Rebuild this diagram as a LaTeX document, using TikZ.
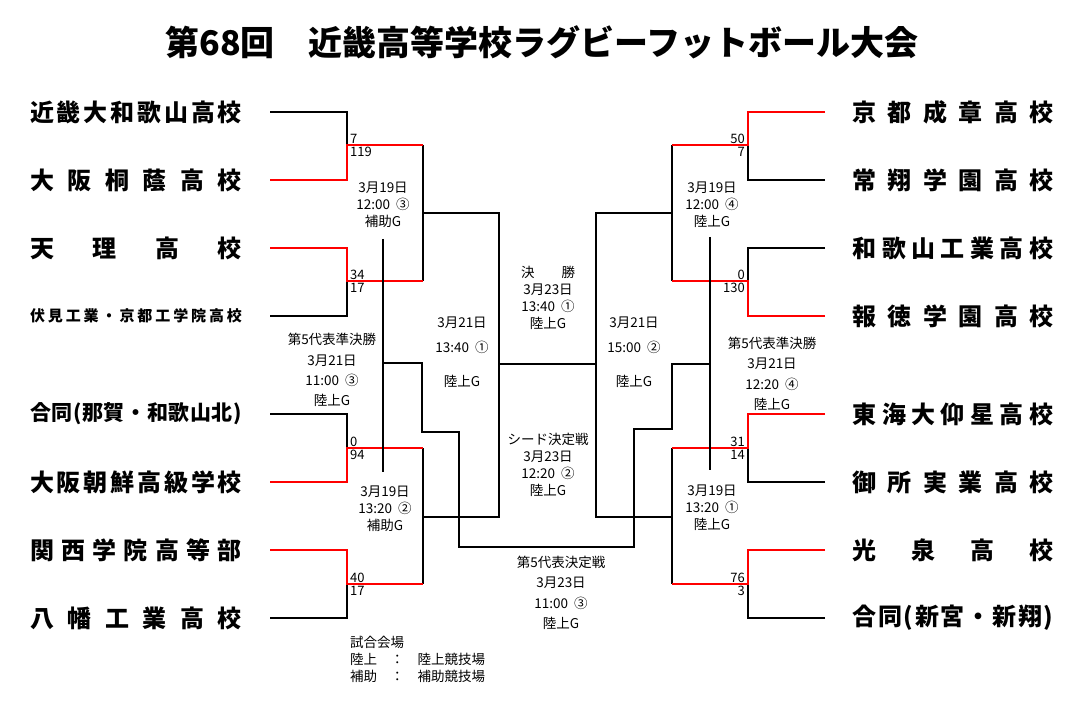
\documentclass[tikz,border=0pt]{standalone}
\usepackage{fontspec}
\setmainfont{Noto Sans CJK JP}
\usepackage{tikz}

\makeatletter
\newcommand\spreadname[2]{\makebox[#1]{\spread@a#2\spread@end}}
\def\spread@a#1#2\spread@end{#1\ifx\relax#2\relax\else\hfill\spread@a#2\spread@end\fi}
\makeatother

\begin{document}
\begin{tikzpicture}[x=1pt, y=-1pt,
    ln/.style={line width=1.9pt},
    win/.style={line width=1.9pt, red},
    team/.style={inner sep=0pt, font=\bfseries\fontsize{24}{24}\selectfont},
    info/.style={inner sep=0pt, align=center, font=\fontsize{13.5}{17}\selectfont},
    score/.style={inner sep=1pt, font=\fontsize{13}{13}\selectfont}]
    \useasboundingbox (0,0) rectangle (1084,703);

    \node[inner sep=0pt, font=\bfseries\fontsize{34}{34}\selectfont] (title) at (542,42) {第68回　近畿高等学校ラグビーフットボール大会};

    \node[team] (w1) at (136,112) {\spreadname{212pt}{近畿大和歌山高校}};
    \node[team] (w2) at (136,180) {\spreadname{212pt}{大阪桐蔭高校}};
    \node[team] (w3) at (136,248) {\spreadname{212pt}{天理高校}};
    \node[team, font=\bfseries\fontsize{15}{15}\selectfont] (w4) at (136,316) {\spreadname{212pt}{伏見工業・京都工学院高校}};
    \node[team, font=\bfseries\fontsize{21}{21}\selectfont] (w5) at (136,414) {\spreadname{212pt}{合同(那賀・和歌山北)}};
    \node[team] (w6) at (136,482) {\spreadname{212pt}{大阪朝鮮高級学校}};
    \node[team] (w7) at (136,550) {\spreadname{212pt}{関西学院高等部}};
    \node[team] (w8) at (136,618) {\spreadname{212pt}{八幡工業高校}};

    \node[team] (e1) at (953,112) {\spreadname{201pt}{京都成章高校}};
    \node[team] (e2) at (953,180) {\spreadname{201pt}{常翔学園高校}};
    \node[team] (e3) at (953,248) {\spreadname{201pt}{和歌山工業高校}};
    \node[team] (e4) at (953,316) {\spreadname{201pt}{報徳学園高校}};
    \node[team] (e5) at (953,414) {\spreadname{201pt}{東海大仰星高校}};
    \node[team] (e6) at (953,482) {\spreadname{201pt}{御所実業高校}};
    \node[team] (e7) at (953,550) {\spreadname{201pt}{光泉高校}};
    \node[team] (e8) at (953,618) {\spreadname{201pt}{合同(新宮・新翔)}};

    \foreach \i/\y in {1/112,2/180,3/248,4/316,5/414,6/482,7/550,8/618} {
        \coordinate (wl\i) at (270,\y);
        \coordinate (el\i) at (825,\y);
    }
    \foreach \i/\y in {1/145,2/281,3/448,4/584} {
        \coordinate (wj\i) at (347,\y);
        \coordinate (wk\i) at (423,\y);
        \coordinate (ej\i) at (748,\y);
        \coordinate (ek\i) at (672,\y);
    }
    \coordinate (wm1) at (423,213);
    \coordinate (wm2) at (423,517);
    \coordinate (wf1) at (499,213);
    \coordinate (wf2) at (499,517);
    \coordinate (wf) at (499,364);
    \coordinate (em1) at (672,213);
    \coordinate (em2) at (672,517);
    \coordinate (ef1) at (596,213);
    \coordinate (ef2) at (596,517);
    \coordinate (ef) at (596,364);
    \coordinate (wx1) at (383,239);
    \coordinate (wx2) at (383,472);
    \coordinate (wx) at (383,363);
    \coordinate (ex1) at (710,237);
    \coordinate (ex2) at (710,470);
    \coordinate (ex) at (710,364);

    \draw[ln] (wl1) -| (wj1);
    \draw[ln] (wl4) -| (wj2);
    \draw[ln] (wl5) -| (wj3);
    \draw[ln] (wl8) -| (wj4);
    \draw[ln] (wk1) -- (wk2);
    \draw[ln] (wk3) -- (wk4);
    \draw[win] (wl2) -| (wj1) -- (wk1);
    \draw[win] (wl3) -| (wj2) -- (wk2);
    \draw[win] (wl6) -| (wj3) -- (wk3);
    \draw[win] (wl7) -| (wj4) -- (wk4);

    \draw[ln] (el2) -| (ej1);
    \draw[ln] (el3) -| (ej2);
    \draw[ln] (el6) -| (ej3);
    \draw[ln] (el8) -| (ej4);
    \draw[ln] (ek1) -- (ek2);
    \draw[ln] (ek3) -- (ek4);
    \draw[win] (el1) -| (ej1) -- (ek1);
    \draw[win] (el4) -| (ej2) -- (ek2);
    \draw[win] (el5) -| (ej3) -- (ek3);
    \draw[win] (el7) -| (ej4) -- (ek4);

    \draw[ln] (wm1) -- (wf1) -- (wf2) -- (wm2);
    \draw[ln] (em1) -- (ef1) -- (ef2) -- (em2);
    \draw[ln] (wf) -- (ef);

    \draw[ln] (wx1) -- (wx2);
    \draw[ln] (ex1) -- (ex2);
    \draw[ln] (wx) -| (422,432) -| (459,547) -| (634,429) -| (672,364) -- (ex);

    \node[score, anchor=south west] (ws1) at (349,145) {7};
    \node[score, anchor=north west] (ws2) at (349,146) {119};
    \node[score, anchor=south west] (ws3) at (349,281) {34};
    \node[score, anchor=north west] (ws4) at (349,282) {17};
    \node[score, anchor=south west] (ws5) at (349,448) {0};
    \node[score, anchor=north west] (ws6) at (349,449) {94};
    \node[score, anchor=south west] (ws7) at (349,584) {40};
    \node[score, anchor=north west] (ws8) at (349,585) {17};

    \node[score, anchor=south east] (es1) at (746,145) {50};
    \node[score, anchor=north east] (es2) at (746,146) {7};
    \node[score, anchor=south east] (es3) at (746,281) {0};
    \node[score, anchor=north east] (es4) at (746,282) {130};
    \node[score, anchor=south east] (es5) at (746,448) {31};
    \node[score, anchor=north east] (es6) at (746,449) {14};
    \node[score, anchor=south east] (es7) at (746,584) {76};
    \node[score, anchor=north east] (es8) at (746,585) {3};

    \node[info] (wr1) at (383,205) {3月19日\\12:00~~③\\補助G};
    \node[info] (wr2) at (385,509) {3月19日\\13:20~~②\\補助G};
    \node[info] (er1) at (712,205) {3月19日\\12:00~~④\\陸上G};
    \node[info] (er2) at (712,508) {3月19日\\13:20~~①\\陸上G};
    \node[info] (wsemi) at (462,352) {3月21日\\[8pt]13:40~~①\\[17pt]陸上G};
    \node[info] (esemi) at (634,352) {3月21日\\[8pt]15:00~~②\\[17pt]陸上G};
    \node[info] (final) at (548,298) {決　　勝\\3月23日\\13:40~~①\\陸上G};
    \node[info] (seed) at (548,465) {シード決定戦\\3月23日\\12:20~~②\\陸上G};
    \node[info, font=\fontsize{13.5}{20.5}\selectfont] (fifth) at (561,593) {第5代表決定戦\\3月23日\\11:00~~③\\陸上G};
    \node[info, font=\fontsize{13.5}{20.3}\selectfont] (wfifth) at (332,370) {第5代表準決勝\\3月21日\\11:00~~③\\陸上G};
    \node[info, font=\fontsize{13.5}{20.5}\selectfont] (efifth) at (772,374) {第5代表準決勝\\3月21日\\12:20~~④\\陸上G};
    \node[info, align=left, anchor=north west] (venue) at (350,636) {試合会場\\陸上　：　陸上競技場\\補助　：　補助競技場};
\end{tikzpicture}
\end{document}
